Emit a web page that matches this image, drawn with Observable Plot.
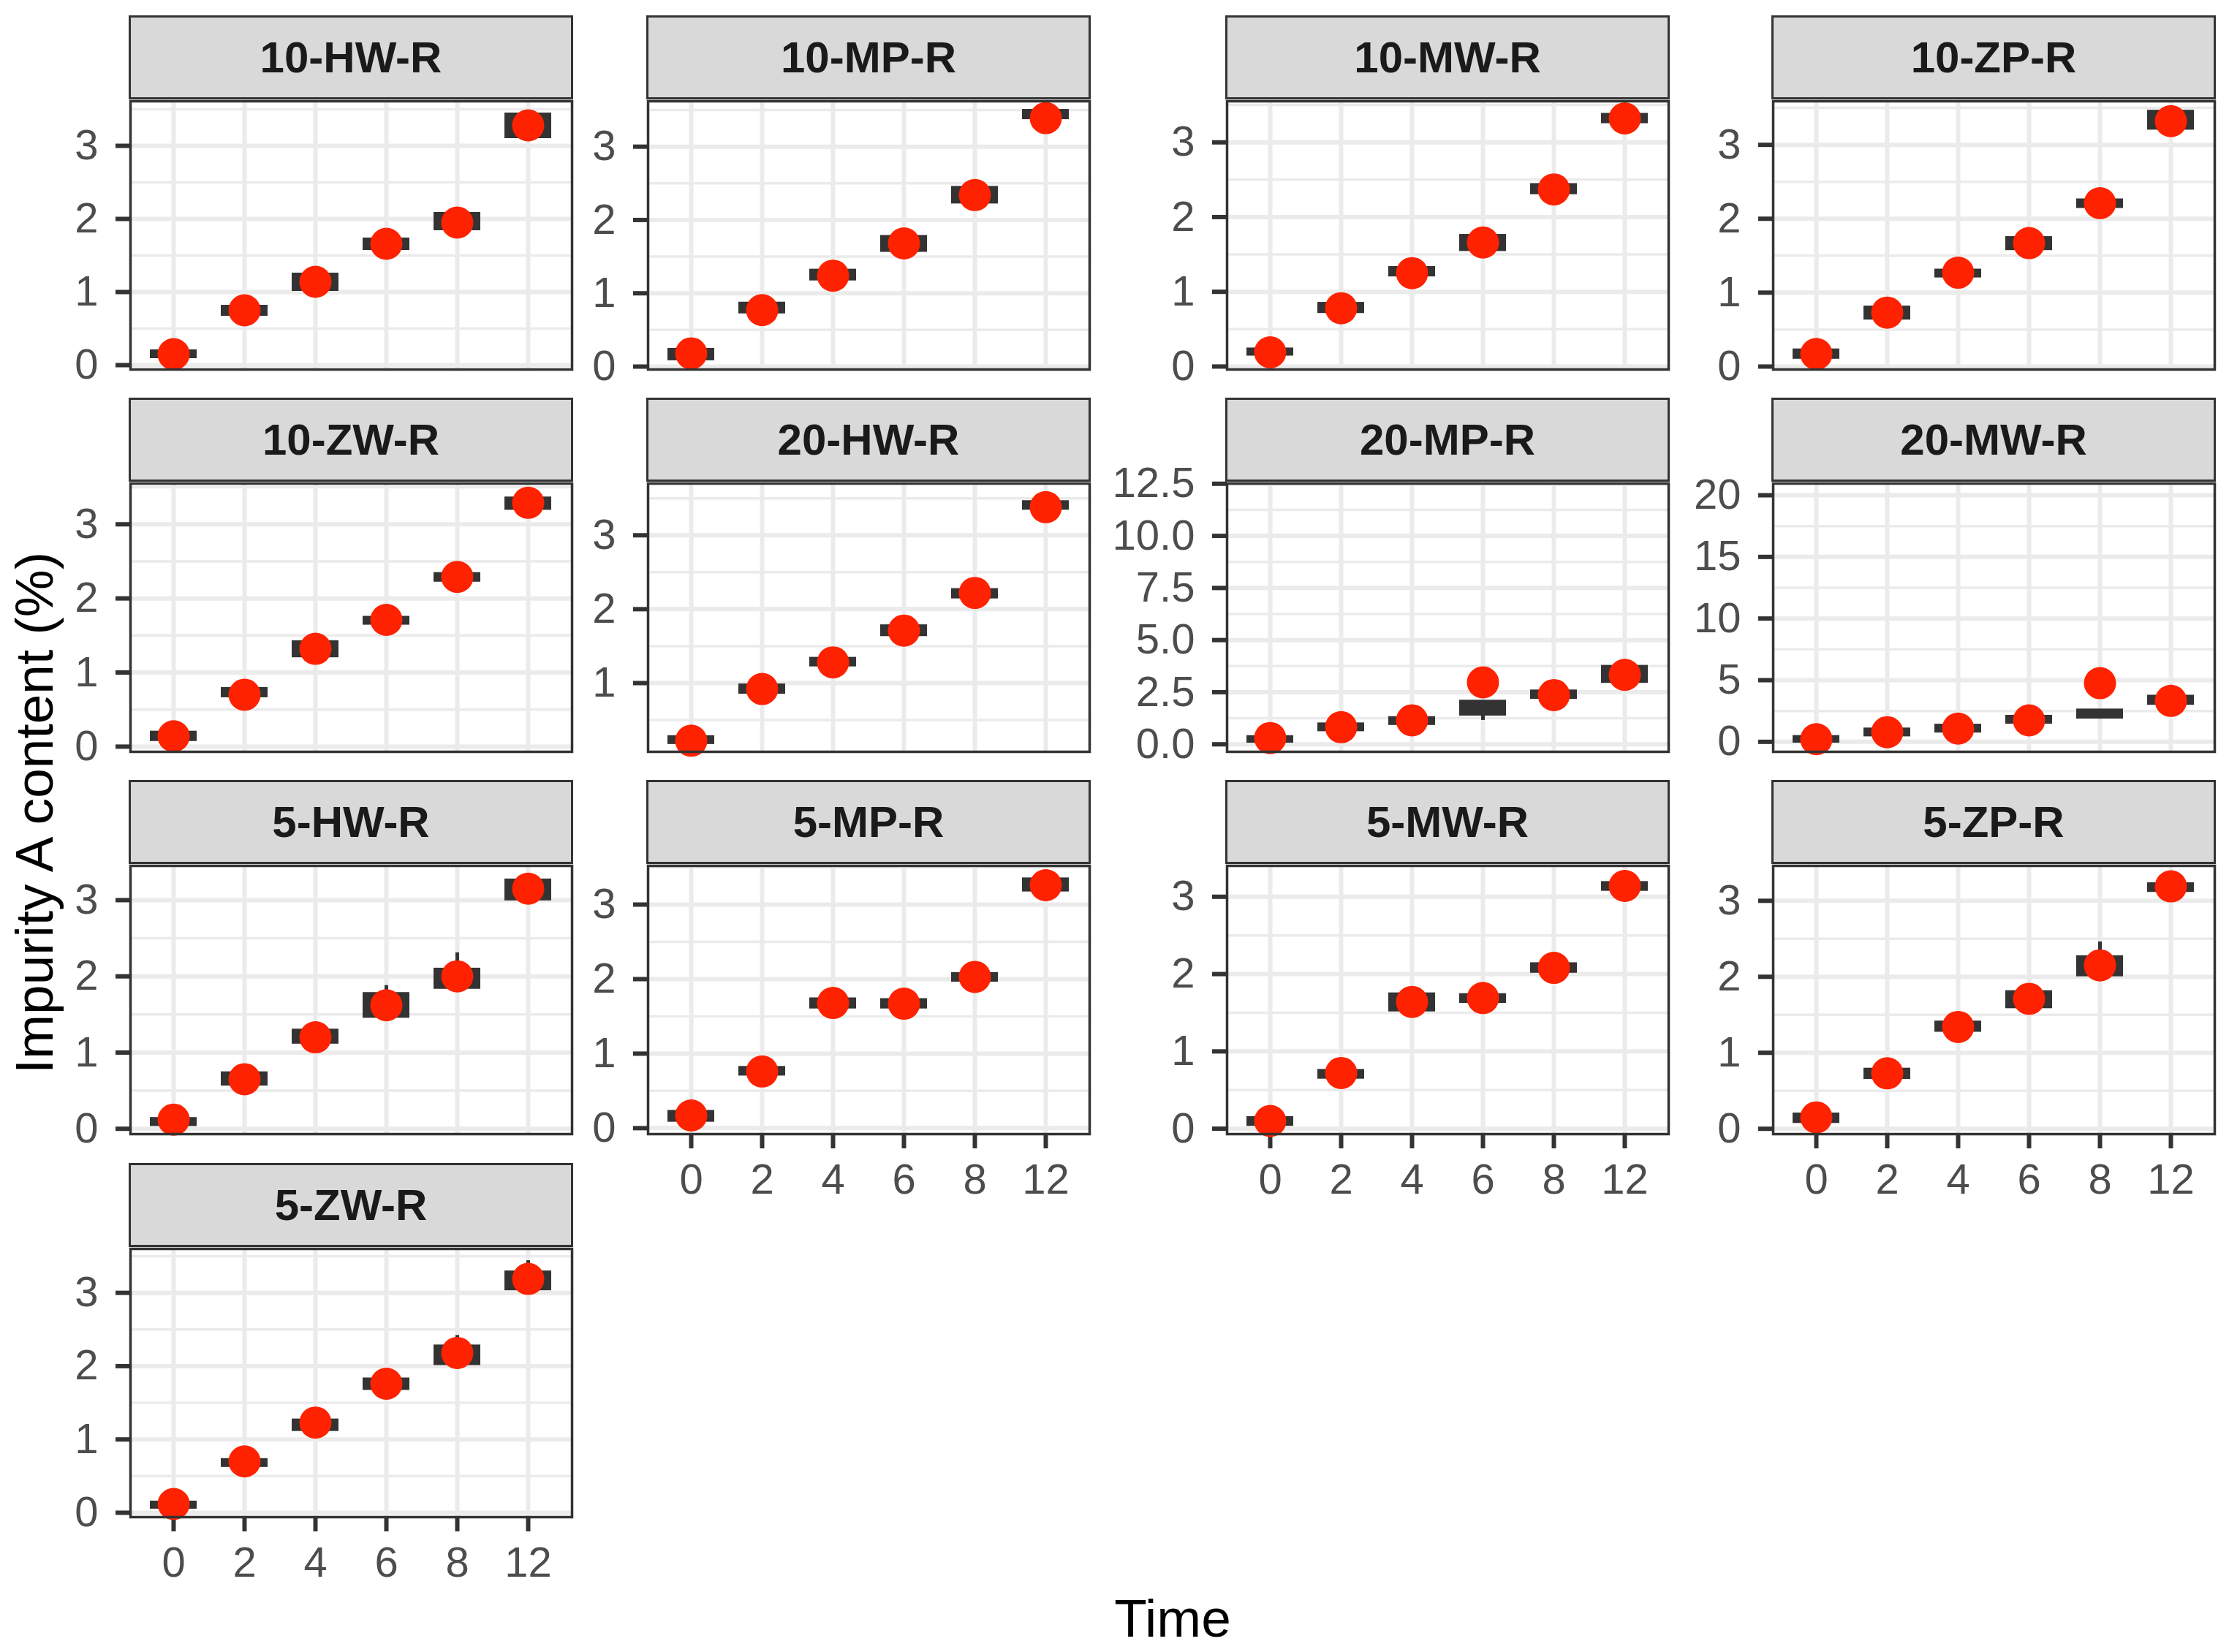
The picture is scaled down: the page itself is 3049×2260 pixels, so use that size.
<!DOCTYPE html>
<html>
<head>
<meta charset="utf-8">
<script src="https://cdn.jsdelivr.net/npm/d3@7"></script>
<script src="https://cdn.jsdelivr.net/npm/@observablehq/plot@0.6"></script>
<style>
  body { margin: 0; background: #fff; }
  #chart { position: relative; width: 3049px; height: 2260px; background: #fff; overflow: hidden;
           font-family: "Liberation Sans", Arial, Helvetica, sans-serif; }
  .strip { position: absolute; box-sizing: border-box; background: #d9d9d9; border: 3.5px solid #333;
           display: flex; align-items: center; justify-content: center;
           font-weight: bold; font-size: 60px; color: #1a1a1a; white-space: nowrap; }
  .panel { position: absolute; }
  #titles { position: absolute; left: 0; top: 0; pointer-events: none; }
</style>
</head>
<body>
<div id="chart"></div>
<script>
// ---------------- data ----------------
const panels = ["10-HW-R", "10-MP-R", "10-MW-R", "10-ZP-R",
                "10-ZW-R", "20-HW-R", "20-MP-R", "20-MW-R",
                "5-HW-R", "5-MP-R", "5-MW-R", "5-ZP-R",
                "5-ZW-R"];
const times = ["0", "2", "4", "6", "8", "12"];

// mean (red points) per panel, per time
const meanValues = [
  [0.15, 0.75, 1.14, 1.66, 1.95, 3.28],
  [0.18, 0.77, 1.24, 1.68, 2.34, 3.39],
  [0.19, 0.78, 1.25, 1.66, 2.37, 3.32],
  [0.17, 0.73, 1.27, 1.67, 2.21, 3.32],
  [0.14, 0.70, 1.32, 1.71, 2.29, 3.29],
  [0.22, 0.92, 1.28, 1.71, 2.22, 3.38],
  [0.30, 0.82, 1.15, 2.97, 2.36, 3.33],
  [0.21, 0.78, 1.07, 1.74, 4.76, 3.32],
  [0.12, 0.65, 1.20, 1.62, 2.00, 3.15],
  [0.17, 0.76, 1.68, 1.67, 2.03, 3.26],
  [0.10, 0.72, 1.64, 1.69, 2.08, 3.14],
  [0.15, 0.73, 1.34, 1.71, 2.15, 3.19],
  [0.12, 0.70, 1.23, 1.76, 2.18, 3.19]
];
// box lower / upper hinge per panel, per time
const boxLow = [
  [0.13, 0.71, 1.05, 1.61, 1.88, 3.14],
  [0.12, 0.76, 1.21, 1.60, 2.26, 3.41],
  [0.18, 0.75, 1.24, 1.58, 2.34, 3.29],
  [0.14, 0.67, 1.24, 1.61, 2.18, 3.24],
  [0.11, 0.70, 1.24, 1.68, 2.26, 3.23],
  [0.21, 0.89, 1.26, 1.67, 2.18, 3.38],
  [0.20, 0.75, 1.05, 1.50, 2.30, 3.07],
  [0.14, 0.65, 0.96, 1.68, 2.09, 3.21],
  [0.07, 0.60, 1.15, 1.49, 1.87, 3.03],
  [0.12, 0.74, 1.64, 1.64, 2.00, 3.21],
  [0.07, 0.68, 1.55, 1.66, 2.05, 3.11],
  [0.11, 0.69, 1.31, 1.62, 2.04, 3.15],
  [0.09, 0.66, 1.15, 1.71, 2.05, 3.07]
];
const boxHigh = [
  [0.17, 0.78, 1.22, 1.70, 2.05, 3.41],
  [0.21, 0.84, 1.29, 1.75, 2.42, 3.47],
  [0.21, 0.82, 1.30, 1.73, 2.41, 3.35],
  [0.20, 0.78, 1.28, 1.72, 2.23, 3.43],
  [0.17, 0.76, 1.39, 1.72, 2.31, 3.33],
  [0.25, 0.95, 1.31, 1.75, 2.24, 3.43],
  [0.28, 0.89, 1.19, 1.98, 2.47, 3.65],
  [0.28, 0.89, 1.20, 1.92, 2.43, 3.55],
  [0.11, 0.71, 1.27, 1.75, 2.07, 3.24],
  [0.20, 0.79, 1.71, 1.70, 2.05, 3.32],
  [0.12, 0.73, 1.72, 1.71, 2.11, 3.16],
  [0.17, 0.76, 1.38, 1.78, 2.24, 3.20],
  [0.12, 0.70, 1.24, 1.80, 2.25, 3.26]
];
// visible whiskers
const whiskerPanel = ["20-MP-R", "5-HW-R", "5-HW-R", "5-ZP-R", "5-ZW-R", "5-ZW-R"];
const whiskerTime  = ["6", "6", "8", "8", "8", "12"];
const whiskerLo    = [1.15, 1.75, 2.07, 2.24, 2.25, 3.26];
const whiskerHi    = [1.50, 1.88, 2.31, 2.46, 2.42, 3.44];

// free y scales (one per panel)
const yDomains = [
  [-0.06, 3.61], [-0.04, 3.62], [-0.04, 3.55], [-0.04, 3.59],
  [-0.07, 3.55], [0.07, 3.70], [-0.36, 12.51], [-0.81, 20.95],
  [-0.07, 3.45], [-0.08, 3.52], [-0.07, 3.40], [-0.07, 3.46],
  [-0.06, 3.60]
];
const yTicks = [
  [0, 1, 2, 3], [0, 1, 2, 3], [0, 1, 2, 3], [0, 1, 2, 3],
  [0, 1, 2, 3], [1, 2, 3], [0, 2.5, 5, 7.5, 10, 12.5], [0, 5, 10, 15, 20],
  [0, 1, 2, 3], [0, 1, 2, 3], [0, 1, 2, 3], [0, 1, 2, 3],
  [0, 1, 2, 3]
];
const xTitle = "Time";
const yTitle = "Impurity A content (%)";

// ---------------- layout ----------------
const colLeft = [178, 886, 1678, 2425];
const panelW = 604;
const rowTop = [21, 544, 1067, 1591];
const stripToPlot = 117;
const plotH = 367;
const mL = 170, mT = 14, mR = 14, mB = 100;
const FONT = '"Liberation Sans", Arial, Helvetica, sans-serif';

const chart = document.getElementById("chart");

panels.forEach((name, i) => {
  const col = i % 4, row = Math.floor(i / 4);
  const left = colLeft[col];
  const plotTop = rowTop[row] + stripToPlot;
  const bottomAxis = i + 4 >= panels.length;

  const rows = times.map((t, j) => ({time: t, mean: meanValues[i][j], lo: boxLow[i][j], hi: boxHigh[i][j]}));
  const wk = whiskerPanel.map((p, k) => ({p, time: whiskerTime[k], lo: whiskerLo[k], hi: whiskerHi[k]}))
                         .filter(d => d.p === name);
  const major = yTicks[i];
  const step = major[1] - major[0];
  const [d0, d1] = yDomains[i];
  const minor = [];
  for (let v = major[0] - step / 2; v <= d1; v += step) if (v >= d0) minor.push(v);

  const fmt = name === "20-MP-R" ? d3.format(".1f") : d3.format("d");
  const mb = bottomAxis ? mB : mR;

  const svg = Plot.plot({
    width: panelW + mL + mR,
    height: plotH + mT + mb,
    marginLeft: mL, marginTop: mT, marginRight: mR, marginBottom: mb,
    style: {background: "transparent", overflow: "visible", fontSize: "58px", fontFamily: FONT, color: "#4d4d4d"},
    x: {type: "band", domain: times, paddingInner: 0.34, paddingOuter: 0.27,
        axis: bottomAxis ? "bottom" : null, tickSize: 20, tickPadding: 20, label: null},
    y: {domain: yDomains[i], ticks: major, tickFormat: fmt, tickSize: 20, tickPadding: 24, label: null},
    marks: [
      Plot.ruleY(minor, {stroke: "#ebebeb", strokeWidth: 3.5}),
      Plot.ruleY(major, {stroke: "#ebebeb", strokeWidth: 6}),
      Plot.ruleX(times, {stroke: "#ebebeb", strokeWidth: 6}),
      Plot.ruleX(wk, {x: "time", y1: "lo", y2: "hi", stroke: "#333333", strokeWidth: 5}),
      Plot.barY(rows, {x: "time", y1: "lo", y2: "hi", fill: "#333333", insetTop: -4, insetBottom: -4}),
      Plot.dot(rows, {x: "time", y: "mean", r: 22, fill: "#ff2200", stroke: "none"}),
      Plot.frame({stroke: "#333333", strokeWidth: 3.5})
    ]
  });

  // tick mark styling
  d3.select(svg).selectAll('g[aria-label$="-axis tick"] path, g[aria-label$="-axis tick"], .tick line')
    .attr("stroke", "#333333").attr("stroke-width", 6);

  svg.classList.add("panel");
  svg.style.left = (left - mL) + "px";
  svg.style.top = (plotTop - mT) + "px";
  chart.appendChild(svg);

  const strip = document.createElement("div");
  strip.className = "strip";
  strip.textContent = name;
  strip.style.left = (left - 1.75) + "px";
  strip.style.width = (panelW + 3.5) + "px";
  strip.style.top = rowTop[row] + "px";
  strip.style.height = (plotTop - 1.75 - rowTop[row]) + "px";
  chart.appendChild(strip);
});

// axis titles
const t = d3.select(chart).append("svg").attr("id", "titles")
  .attr("width", 3049).attr("height", 2260);
t.append("text").attr("x", 1604).attr("y", 2239).attr("text-anchor", "middle")
  .attr("font-size", 73).attr("font-family", FONT).attr("fill", "#000").text(xTitle);
t.append("text").attr("transform", "translate(72,1112) rotate(-90)").attr("text-anchor", "middle")
  .attr("font-size", 73).attr("font-family", FONT).attr("fill", "#000").text(yTitle);
</script>
</body>
</html>
